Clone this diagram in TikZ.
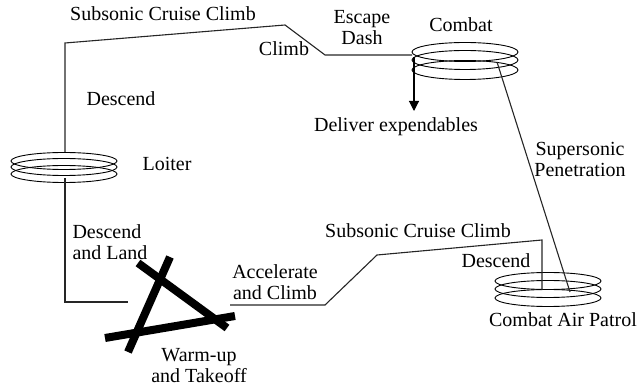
\documentclass[tikz,border=0pt]{standalone}
\usepackage{fontspec}
\setmainfont{Liberation Serif}
\usetikzlibrary{shapes}
\usetikzlibrary{arrows.meta}
\tikzset{
    coil/.style = {ellipse, draw=black, line width=0.45pt, inner sep=0pt, outer sep=0pt, minimum width=53pt, minimum height=8.5pt},
    lbl/.style = {align=center, inner sep=0pt, font=\fontsize{10}{10.5}\selectfont},
    leg/.style = {draw=black!85, line width=0.55pt},
    legd/.style = {-{Triangle[length=5pt,width=5pt]}, draw=black, line width=0.55pt},
    bar/.style = {line width=4pt, line cap=butt},
}

\begin{document}
\begin{tikzpicture}[x=0.5pt,y=-0.5pt]
\useasboundingbox (0,0) rectangle (637,389);
% holding coils
\node[coil] at (64,161) (la) {};
\node[coil] at (64,167) (lb) {};
\node[coil] at (64,174) (lc) {};
\node[coil, minimum height=9.5pt] at (465,52) (ca) {};
\node[coil, minimum height=9.5pt] at (465,60) (cb) {};
\node[coil, minimum height=9.5pt] at (465,70) (cc) {};
\node[coil] at (548,281) (pa) {};
\node[coil] at (548,289) (pb) {};
\node[coil] at (548,298) (pc) {};
% route corners
\coordinate (lTop) at (65,152);
\coordinate (c1) at (65,43);
\coordinate (c2) at (285,25);
\coordinate (c3) at (325,55);
\coordinate (cIn) at (412,55);
\coordinate (drop) at (414,57);
\coordinate (dlv) at (414,111);
\coordinate (sIn) at (497,62);
\coordinate (sOut) at (570,292);
\coordinate (lBot) at (65,178);
\coordinate (d1) at (65,302);
\coordinate (d2) at (128,302);
\coordinate (a1) at (230,305);
\coordinate (a2) at (325,305);
\coordinate (a3) at (377,255);
\coordinate (a4) at (542,240);
\coordinate (pIn) at (542,290);
% runway
\coordinate (r1) at (138,263);
\coordinate (r2) at (227,328);
\coordinate (r3) at (170,257);
\coordinate (r4) at (128,352);
\coordinate (r5) at (105,338);
\coordinate (r6) at (235,316);
% labels
\node[lbl] at (163,14) (cruiseA) {Subsonic Cruise Climb};
\node[lbl] at (284,49) (climb) {Climb};
\node[lbl] at (362,28) (dash) {Escape\\Dash};
\node[lbl] at (461,25) (combat) {Combat};
\node[lbl] at (121,99) (descA) {Descend};
\node[lbl] at (167,164) (loiter) {Loiter};
\node[lbl] at (396,127) (deliver) {Deliver expendables};
\node[lbl] at (580,159) (super) {Supersonic\\Penetration};
\node[lbl, align=left] at (110,242) (land) {Descend\\and Land};
\node[lbl] at (275,282) (accel) {Accelerate\\and Climb};
\node[lbl] at (418,231) (cruiseB) {Subsonic Cruise Climb};
\node[lbl] at (496,261) (descB) {Descend};
\node[lbl] at (563,320) (cap) {Combat Air Patrol};
\node[lbl] at (199,366) (takeoff) {Warm-up\\and Takeoff};
% legs
\draw[leg] (lTop) -- (c1) -- (c2) -- (c3) -- (cIn);
\draw[legd] (drop) -- (dlv);
\draw[leg] (sIn) -- (sOut);
\draw[leg] (lBot) -- (d1) -- (d2);
\draw[leg] (a1) -- (a2) -- (a3) -- (a4) -- (pIn);
\draw[bar] (r1) -- (r2);
\draw[bar] (r3) -- (r4);
\draw[bar] (r5) -- (r6);
\end{tikzpicture}
\end{document}
